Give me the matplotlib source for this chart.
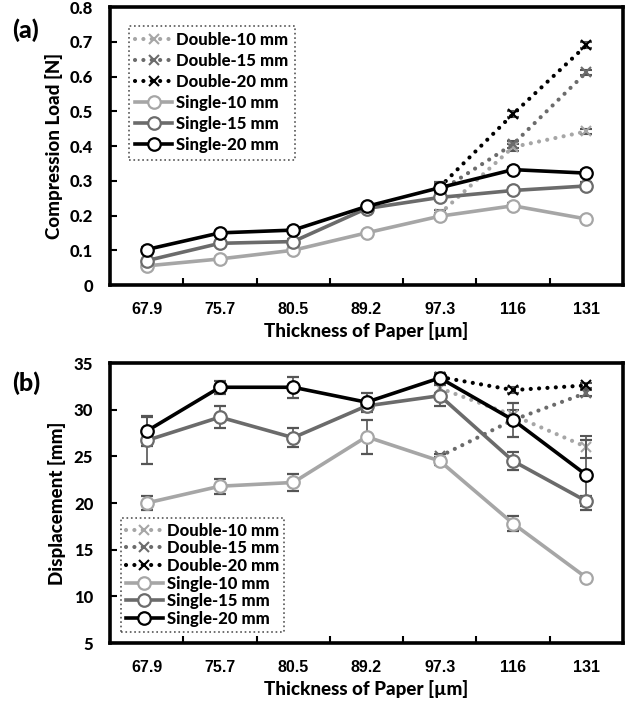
import numpy as np
import matplotlib.pyplot as plt
from matplotlib.lines import Line2D

# data
thickness = ['67.9', '75.7', '80.5', '89.2', '97.3', '116', '131']

# (a) compression load [N]
load_s10 = [0.055, 0.075, 0.100, 0.150, 0.198, 0.228, 0.190]
load_s15 = [0.070, 0.120, 0.125, 0.220, 0.252, 0.272, 0.285]
load_s20 = [0.102, 0.150, 0.158, 0.226, 0.280, 0.332, 0.322]
load_s10_err = [0.005, 0.005, 0.005, 0.006, 0.008, 0.008, 0.006]
load_s15_err = [0.006, 0.006, 0.006, 0.006, 0.008, 0.008, 0.010]
load_s20_err = [0.006, 0.006, 0.006, 0.006, 0.015, 0.008, 0.008]
load_d10 = [0.205, 0.397, 0.442]
load_d15 = [0.270, 0.405, 0.612]
load_d20 = [0.282, 0.492, 0.690]
load_d10_err = [0.010, 0.010, 0.008]
load_d15_err = [0.010, 0.010, 0.008]
load_d20_err = [0.010, 0.008, 0.008]

# (b) displacement [mm]
disp_s10 = [20.0, 21.8, 22.2, 27.1, 24.5, 17.8, 12.0]
disp_s15 = [26.7, 29.2, 27.0, 30.4, 31.5, 24.5, 20.2]
disp_s20 = [27.7, 32.4, 32.4, 30.8, 33.4, 28.9, 23.0]
disp_s10_err = [0.8, 0.8, 0.9, 1.8, 0.4, 0.8, 0.2]
disp_s15_err = [2.5, 1.2, 1.0, 0.4, 1.1, 1.0, 0.5]
disp_s20_err = [1.6, 0.7, 1.1, 1.0, 0.5, 1.8, 3.8]
disp_d10 = [32.3, 29.4, 26.0]
disp_d15 = [25.0, 28.9, 31.8]
disp_d20 = [33.5, 32.1, 32.6]
disp_d10_err = [0.5, 0.6, 1.2]
disp_d15_err = [0.3, 0.3, 0.3]
disp_d20_err = [0.3, 0.3, 0.3]

c_light = '#a6a6a6'
c_mid = '#6b6b6b'
c_dark = '#000000'
fnt = 'Lato'
fw = 900
xtick_font = 'Liberation Sans'
dot = (0, (0.01, 2.0))

x = np.arange(len(thickness))
xd = x[4:]

fig = plt.figure(figsize=(6.35, 7.06), dpi=100)
ax_a = fig.add_axes([110/635, 1-285/706, 513/635, 278/706])
ax_b = fig.add_axes([110/635, 1-643/706, 513/635, 280/706])


def draw(ax, singles, s_errs, doubles, d_errs):
    cols = [c_light, c_mid, c_dark]
    for y, e, c in zip(doubles, d_errs, cols):
        eb = ax.errorbar(xd, y, yerr=e, color=c, ls=dot, lw=3.0,
                         marker='x', ms=7, mew=1.5, ecolor='#555555',
                         elinewidth=1.2, capsize=4, zorder=2)
        eb.lines[0].set_dash_capstyle('round')
    for y, e, c in zip(singles, s_errs, cols):
        ax.errorbar(x, y, yerr=e, color=c, lw=2.6, marker='o', ms=9,
                    mfc='white', mec=c, mew=1.6, ecolor='#555555',
                    elinewidth=1.2, capsize=4, zorder=3)
    ax.set_xlim(-0.5, 6.5)
    ax.set_xticks(x)
    ax.set_xticklabels(thickness, fontfamily=xtick_font, fontweight='bold',
                       fontsize=11.5)
    ax.set_xticks(x[:-1] + 0.5, minor=True)
    ax.tick_params(axis='x', which='major', length=0, pad=12)
    ax.tick_params(axis='x', which='minor', direction='in', length=5,
                   width=1.5)
    ax.tick_params(axis='y', direction='in', length=5, width=1.5, pad=12)
    for sp in ax.spines.values():
        sp.set_linewidth(2.6)
    ax.set_xlabel('Thickness of Paper [µm]', fontfamily=fnt,
                  fontweight=fw, fontsize=13.5, labelpad=4)

    handles = []
    names = ['Double-10 mm', 'Double-15 mm', 'Double-20 mm',
             'Single-10 mm', 'Single-15 mm', 'Single-20 mm']
    for c in cols:
        ln = Line2D([], [], color=c, ls=dot, lw=3.0, marker='x', ms=7,
                    mew=1.5)
        ln.set_dash_capstyle('round')
        handles.append(ln)
    for c in cols:
        handles.append(Line2D([], [], color=c, lw=2.6, marker='o', ms=9,
                              mfc='white', mec=c, mew=1.6))
    return handles, names


def style_legend(leg):
    leg.get_frame().set_edgecolor('#555555')
    leg.get_frame().set_linestyle(':')
    leg.get_frame().set_linewidth(1.2)


h, n = draw(ax_a, [load_s10, load_s15, load_s20],
            [load_s10_err, load_s15_err, load_s20_err],
            [load_d10, load_d15, load_d20],
            [load_d10_err, load_d15_err, load_d20_err])
ax_a.set_ylim(0, 0.8)
ax_a.set_yticks(np.arange(0, 0.81, 0.1))
ax_a.set_yticklabels(['0'] + ['%.1f' % v for v in np.arange(0.1, 0.81, 0.1)],
                     fontfamily=fnt, fontweight=fw, fontsize=12)
ax_a.set_ylabel('Compression Load [N]', fontfamily=fnt,
                fontweight=fw, fontsize=13.5, labelpad=5)
leg = ax_a.legend(h, n, loc='upper left', bbox_to_anchor=(0.03, 0.945),
                  prop={'family': fnt, 'weight': fw, 'size': 12},
                  handlelength=2.2, handletextpad=0.25, labelspacing=0.3,
                  borderpad=0.4, borderaxespad=0.2, fancybox=False,
                  framealpha=1)
style_legend(leg)

h, n = draw(ax_b, [disp_s10, disp_s15, disp_s20],
            [disp_s10_err, disp_s15_err, disp_s20_err],
            [disp_d10, disp_d15, disp_d20],
            [disp_d10_err, disp_d15_err, disp_d20_err])
ax_b.set_ylim(5, 35)
ax_b.set_yticks(np.arange(5, 36, 5))
ax_b.set_yticklabels([str(v) for v in range(5, 36, 5)],
                     fontfamily=fnt, fontweight=fw, fontsize=12)
ax_b.set_ylabel('Displacement [mm]', fontfamily=fnt,
                fontweight=fw, fontsize=13.5, labelpad=6)
leg = ax_b.legend(h, n, loc='lower left', bbox_to_anchor=(0.005, 0.01),
                  prop={'family': fnt, 'weight': fw, 'size': 12},
                  handlelength=2.2, handletextpad=0.25, labelspacing=0.1,
                  borderpad=0.3, fancybox=False, framealpha=1)
style_legend(leg)

fig.text(12/635, 1-30/706, '(a)', fontfamily=fnt, fontweight=fw,
         fontsize=18, va='center')
fig.text(12/635, 1-383/706, '(b)', fontfamily=fnt, fontweight=fw,
         fontsize=18, va='center')

fig.savefig('out.png', dpi=100)
